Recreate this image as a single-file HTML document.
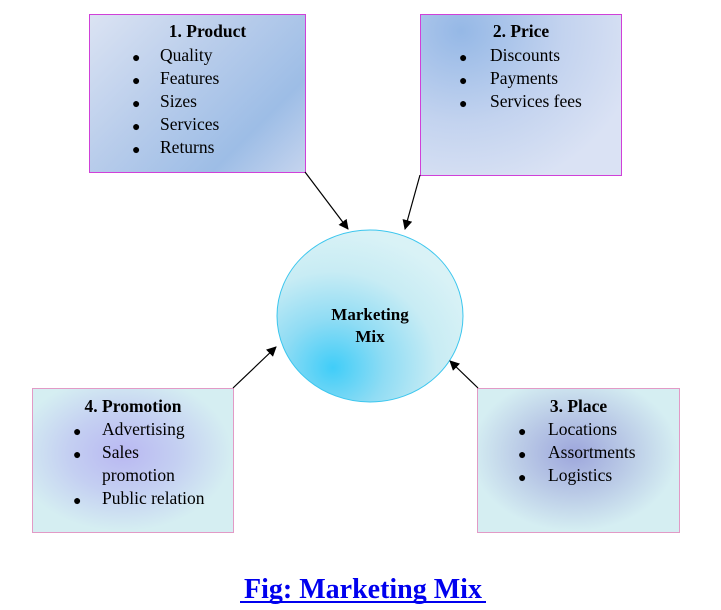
<!DOCTYPE html>
<html><head><style>
body{margin:0;width:721px;height:610px;background:#fff;position:relative;overflow:hidden;font-family:"Liberation Serif",serif;color:#000}
.box{position:absolute;box-sizing:border-box;font-size:17.5px}
.box .t{position:absolute;font-weight:bold;width:100%;text-align:center}
.box .l{position:absolute;white-space:nowrap}
.box .b{position:absolute;font-size:14px}
</style></head><body>
<div class="box" style="left:89px;top:14px;width:217px;height:159px;border:1px solid #d040d8;background:linear-gradient(135deg,#dbe3f3 0%,#b9cdeb 40%,#9dbde6 75%,#c5d4ee 100%)">
<div class="t" style="top:6px;left:10px">1. Product</div>
<div class="b" style="left:42px;top:32px;line-height:23px">●<br>●<br>●<br>●<br>●</div>
<div class="l" style="left:70px;top:29px;line-height:23px">Quality<br>Features<br>Sizes<br>Services<br>Returns</div>
</div>
<div class="box" style="left:420px;top:14px;width:202px;height:162px;border:1px solid #d040d8;background:radial-gradient(ellipse at 20% 10%,#95b8e6 0%,#c3d3ef 45%,#dae2f4 80%)">
<div class="t" style="top:6px;left:0">2. Price</div>
<div class="b" style="left:38px;top:32px;line-height:23px">●<br>●<br>●</div>
<div class="l" style="left:69px;top:29px;line-height:23px">Discounts<br>Payments<br>Services fees</div>
</div>
<div class="box" style="left:32px;top:388px;width:202px;height:145px;border:1px solid #e29ac6;background:radial-gradient(ellipse at 45% 45%,#b9b8f2 0%,#c4cff2 35%,#d5eef2 70%)">
<div class="t" style="top:7px;left:0">4. Promotion</div>
<div class="b" style="left:40px;top:32px;line-height:23px">●<br>●<br><br>●</div>
<div class="l" style="left:69px;top:29px;line-height:23px">Advertising<br>Sales<br>promotion<br>Public relation</div>
</div>
<div class="box" style="left:477px;top:388px;width:203px;height:145px;border:1px solid #e29ac6;background:radial-gradient(ellipse at 48% 45%,#9da6dc 0%,#b9c9e6 35%,#d5eef2 70%)">
<div class="t" style="top:7px;left:0">3. Place</div>
<div class="b" style="left:40px;top:32px;line-height:23px">●<br>●<br>●</div>
<div class="l" style="left:70px;top:29px;line-height:23px">Locations<br>Assortments<br>Logistics</div>
</div>
<svg width="721" height="610" style="position:absolute;left:0;top:0">
<defs>
<radialGradient id="g" cx="0.3" cy="0.8" r="0.8" fx="0.3" fy="0.8">
<stop offset="0" stop-color="#40cdf8"/><stop offset="0.35" stop-color="#8fdcf4"/><stop offset="0.7" stop-color="#c8ecf4"/><stop offset="1" stop-color="#d9f2f6"/></radialGradient>
<marker id="a" markerWidth="10" markerHeight="10" refX="9" refY="5" orient="auto" markerUnits="userSpaceOnUse"><path d="M0,0 L10,5 L0,10 z" fill="#000"/></marker>
</defs>
<ellipse cx="370" cy="316" rx="93" ry="86" fill="url(#g)" stroke="#3cc6ee" stroke-width="1"/>
<text x="370" y="320" text-anchor="middle" font-weight="bold" font-size="17" font-family="Liberation Serif,serif">Marketing</text>
<text x="370" y="342" text-anchor="middle" font-weight="bold" font-size="17" font-family="Liberation Serif,serif">Mix</text>
<g stroke="#000" stroke-width="1.2" marker-end="url(#a)">
<line x1="305" y1="172" x2="348" y2="229"/>
<line x1="420" y1="175" x2="405" y2="229"/>
<line x1="233" y1="388" x2="276" y2="347"/>
<line x1="478" y1="388" x2="450" y2="361"/>
</g>
<text x="363" y="598" text-anchor="middle" font-weight="bold" font-size="28" fill="#0000ee" font-family="Liberation Serif,serif">Fig: Marketing Mix</text>
<line x1="240" y1="602" x2="486" y2="602" stroke="#0000ee" stroke-width="2"/>
</svg>
</body></html>
